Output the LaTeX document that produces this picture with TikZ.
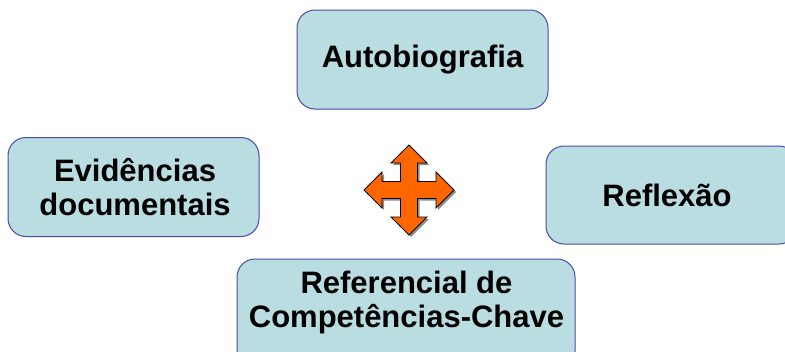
\documentclass[tikz,border=0pt]{standalone}
\usepackage{fontspec}
\setmainfont{Liberation Sans}
\definecolor{boxfill}{HTML}{BADDE1}
\definecolor{boxline}{HTML}{4A4AA8}
\definecolor{arroworange}{HTML}{FF6600}
\tikzset{
  box/.style={draw=boxline, line width=1pt, fill=boxfill, rounded corners=18pt, inner sep=0pt},
  lbl/.style={font=\fontsize{31}{34}\selectfont\bfseries, align=center, inner sep=0pt, text=black}
}
\begin{document}
\begin{tikzpicture}[x=1pt,y=-1pt]
\useasboundingbox (0,0) rectangle (785,351);
\clip (0,0) rectangle (785,351);
% boxes
\node[box, minimum width=251pt, minimum height=99pt] (auto) at (422.5,59.5) {};
\node[box, minimum width=251pt, minimum height=99pt] (evid) at (133.5,187) {};
\node[box, minimum width=251pt, minimum height=98pt] (refl) at (671.5,195) {};
\node[box, minimum width=338pt, minimum height=110pt] (refe) at (406,314) {};
% labels
\node[lbl] (tauto) at (auto.center) {Autobiografia};
\node[lbl] (tevid) at (135,187) {Evidências\\documentais};
\node[lbl] (trefl) at (667,195.5) {Reflexão};
\node[lbl] (trefe) at (406.5,302) {Referencial de\\Competências-Chave};
% central four-way arrow
\coordinate (c) at (409,190);
\path[fill=black!45, shift={(c)}, xshift=2pt, yshift=-2pt]
  (0,-45) -- (18,-27) -- (8.5,-27) -- (8.5,-8.5) -- (27,-8.5) -- (27,-18) -- (45,0)
  -- (27,18) -- (27,8.5) -- (8.5,8.5) -- (8.5,27) -- (18,27) -- (0,45)
  -- (-18,27) -- (-8.5,27) -- (-8.5,8.5) -- (-27,8.5) -- (-27,18) -- (-45,0)
  -- (-27,-18) -- (-27,-8.5) -- (-8.5,-8.5) -- (-8.5,-27) -- (-18,-27) -- cycle;
\path[fill=arroworange, draw=black, line width=0.9pt, line join=miter, shift={(c)}]
  (0,-45) -- (18,-27) -- (8.5,-27) -- (8.5,-8.5) -- (27,-8.5) -- (27,-18) -- (45,0)
  -- (27,18) -- (27,8.5) -- (8.5,8.5) -- (8.5,27) -- (18,27) -- (0,45)
  -- (-18,27) -- (-8.5,27) -- (-8.5,8.5) -- (-27,8.5) -- (-27,18) -- (-45,0)
  -- (-27,-18) -- (-27,-8.5) -- (-8.5,-8.5) -- (-8.5,-27) -- (-18,-27) -- cycle;
\end{tikzpicture}
\end{document}
